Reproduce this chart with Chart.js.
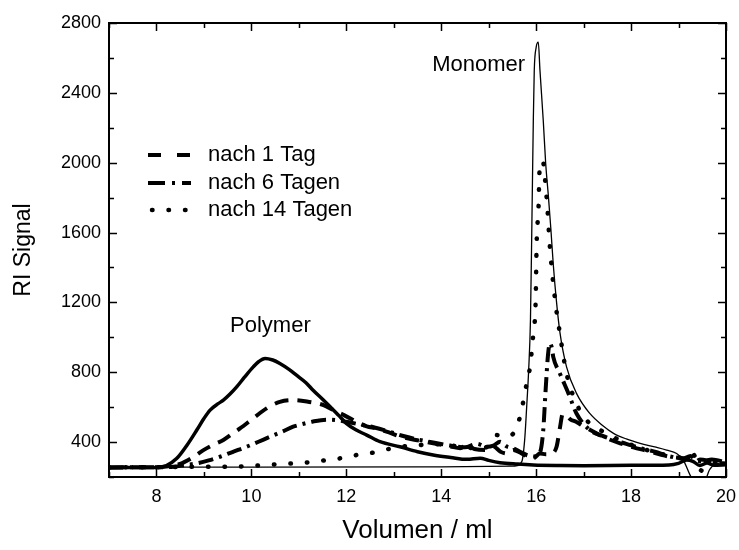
<!DOCTYPE html>
<html>
<head>
<meta charset="utf-8">
<script src="https://cdn.jsdelivr.net/npm/chart.js@4.4.1/dist/chart.umd.min.js"></script>
<style>
  html, body { margin: 0; padding: 0; background: #fff; }
  canvas { display: block; }
</style>
</head>
<body>
<canvas id="gpc" width="739" height="550"></canvas>
<script>
// Elution volume (ml) and RI signal for each GPC trace
const polymerVol = [7, 7.5, 8.0, 8.2, 8.43, 8.65, 8.85, 9.0, 9.13, 9.3, 9.41, 9.55, 9.69, 9.85, 10.04, 10.15, 10.29, 10.45, 10.6, 10.8, 10.95, 11.15, 11.3, 11.5, 11.66, 11.85, 12.0, 12.2, 12.43, 12.71, 13.13, 13.5, 13.83, 14.2, 14.54, 14.82, 15.0, 15.24, 15.6, 15.94, 16.5, 17.0, 18.0, 18.8, 19.0, 19.17, 19.3, 19.45, 19.6, 19.75, 20];
const polymerRI  = [254, 254, 255, 264, 307, 385, 469, 535, 583, 620, 640, 675, 716, 770, 831, 860, 879, 870, 850, 815, 783, 740, 697, 645, 602, 550, 507, 470, 440, 402, 373, 345, 326, 312, 301, 308, 295, 282, 274, 269, 266, 265, 267, 269, 278, 297, 290, 266, 280, 268, 270];

const monomerVol = [7, 10, 14, 15.5, 15.6, 15.7, 15.76, 15.8, 15.84, 15.88, 15.91, 15.94, 15.96, 16.0, 16.045, 16.08, 16.15, 16.2, 16.26, 16.31, 16.36, 16.43, 16.5, 16.64, 16.85, 17.13, 17.4, 17.63, 17.9, 18.19, 18.5, 18.75, 18.96, 19.1, 19.26, 19.4, 19.55, 19.65, 19.8, 20];
const monomerRI  = [256, 256, 258, 262, 265, 290, 420, 600, 800, 1100, 1650, 2240, 2527, 2660, 2690, 2530, 2240, 2000, 1800, 1620, 1420, 1200, 1030, 831, 679, 564, 495, 450, 418, 393, 372, 354, 335, 297, 202, 150, 170, 240, 275, 282];

const tag1Vol = [7, 8.0, 8.25, 8.5, 8.75, 8.99, 9.2, 9.41, 9.6, 9.76, 10.04, 10.32, 10.6, 10.88, 11.17, 11.52, 11.75, 11.94, 12.29, 12.43, 12.64, 12.9, 13.13, 13.5, 13.83, 14.19, 14.4, 14.54, 14.7, 14.96, 15.1, 15.25, 15.38, 15.52, 15.66, 15.8, 15.94, 16.08, 16.2, 16.33, 16.43, 16.5, 16.56, 16.62, 16.72, 16.85, 17.0, 17.27, 17.5, 17.77, 18.05, 18.33, 18.6, 18.82, 19.1, 19.25, 19.35, 19.45, 19.6, 19.8, 20];
const tag1RI  = [255, 256, 262, 275, 310, 354, 385, 412, 448, 478, 536, 593, 630, 640, 632, 612, 580, 556, 507, 490, 478, 455, 432, 410, 393, 375, 365, 385, 360, 354, 375, 345, 335, 355, 340, 318, 307, 335, 330, 335, 373, 480, 560, 555, 530, 515, 490, 450, 420, 393, 370, 350, 330, 316, 307, 300, 285, 300, 295, 280, 278];

const tag6Vol = [7, 8.0, 8.36, 8.6, 8.85, 9.1, 9.34, 9.6, 9.9, 10.15, 10.39, 10.65, 10.88, 11.1, 11.3, 11.59, 11.8, 12.0, 12.3, 12.57, 12.9, 13.2, 13.5, 13.83, 14.19, 14.5, 14.75, 14.96, 15.1, 15.24, 15.38, 15.52, 15.66, 15.8, 15.95, 16.08, 16.15, 16.2, 16.25, 16.29, 16.33, 16.36, 16.5, 16.68, 16.85, 17.13, 17.4, 17.63, 17.9, 18.2, 18.5, 18.82, 19.1, 19.25, 19.35, 19.5, 19.7, 20];
const tag6RI  = [255, 256, 259, 268, 278, 295, 316, 343, 373, 402, 430, 460, 488, 505, 518, 528, 525, 516, 500, 485, 460, 435, 415, 398, 380, 370, 390, 373, 380, 402, 375, 364, 345, 326, 318, 340, 470, 700, 900, 966, 940, 888, 793, 679, 564, 469, 435, 412, 390, 365, 345, 318, 305, 320, 300, 290, 300, 285];

const tag14Vol = [7, 8.0, 8.5, 9.0, 9.55, 10.0, 10.32, 10.88, 11.24, 11.59, 11.94, 12.22, 12.57, 12.92, 13.2, 13.5, 13.83, 14.2, 14.5, 14.8, 15.0, 15.17, 15.35, 15.52, 15.66, 15.8, 15.87, 15.94, 15.99, 16.01, 16.05, 16.07, 16.14, 16.19, 16.24, 16.29, 16.4, 16.5, 16.64, 16.85, 17.06, 17.48, 17.77, 18.05, 18.33, 18.6, 18.82, 19.1, 19.3, 19.49, 19.6, 19.8, 20];
const tag14RI  = [255, 256, 258, 258, 259, 263, 269, 278, 285, 297, 310, 326, 340, 362, 375, 382, 388, 380, 372, 360, 380, 440, 430, 450, 545, 735, 831, 1022, 1212, 1536, 1745, 1946, 2010, 1898, 1727, 1517, 1212, 1022, 793, 621, 526, 450, 410, 380, 355, 335, 320, 310, 331, 236, 250, 285, 280];

// Axis ticks
const xMajorTicks = [8, 10, 12, 14, 16, 18, 20];
const yMajorTicks = [400, 800, 1200, 1600, 2000, 2400, 2800];

// Text labels
const legendLabels = ['nach 1 Tag', 'nach 6 Tagen', 'nach 14 Tagen'];
const peakLabels = [
  { text: 'Monomer', x: 14.79, y: 2560 },
  { text: 'Polymer', x: 10.4, y: 1065 }
];

const FONT = 'Arial, "Liberation Sans", Helvetica, sans-serif';
const pts = (xs, ys) => xs.map((x, i) => ({ x, y: ys[i] }));

const DASH = [14, 9];
const DASHDOT = [15, 6, 3, 6];
const DOT = [0.5, 16];

const datasets = [
  { label: 'Polymer', data: pts(polymerVol, polymerRI), borderWidth: 3.5, borderDash: [] },
  { label: 'Monomer', data: pts(monomerVol, monomerRI), borderWidth: 1.3, borderDash: [] },
  { label: legendLabels[0], data: pts(tag1Vol, tag1RI), borderWidth: 4, borderDash: DASH },
  { label: legendLabels[1], data: pts(tag6Vol, tag6RI), borderWidth: 4, borderDash: DASHDOT },
  { label: legendLabels[2], data: pts(tag14Vol, tag14RI), borderWidth: 4.5, borderDash: DOT, borderCapStyle: 'round' }
].map(d => Object.assign({
  borderColor: '#000',
  backgroundColor: '#000',
  fill: false,
  pointRadius: 0,
  cubicInterpolationMode: 'monotone',
  borderCapStyle: 'butt',
  borderJoinStyle: 'round'
}, d));

// Boxed frame with inward ticks on all four sides
const framePlugin = {
  id: 'frame',
  afterDatasetsDraw(chart) {
    const { ctx, chartArea: a, scales: { x, y } } = chart;
    ctx.save();
    ctx.strokeStyle = '#000';
    ctx.lineWidth = 2;
    ctx.strokeRect(a.left, a.top, a.right - a.left, a.bottom - a.top);
    ctx.lineWidth = 1.5;
    ctx.beginPath();
    for (let v = x.min; v <= x.max; v += 1) {
      const px = Math.round(x.getPixelForValue(v)) + 0.5;
      const len = xMajorTicks.includes(v) ? 8 : 5;
      ctx.moveTo(px, a.bottom); ctx.lineTo(px, a.bottom - len);
      ctx.moveTo(px, a.top); ctx.lineTo(px, a.top + len);
    }
    for (let v = y.min; v <= y.max; v += 200) {
      const py = Math.round(y.getPixelForValue(v)) + 0.5;
      const len = yMajorTicks.includes(v) ? 8 : 5;
      ctx.moveTo(a.left, py); ctx.lineTo(a.left + len, py);
      ctx.moveTo(a.right, py); ctx.lineTo(a.right - len, py);
    }
    ctx.stroke();
    ctx.restore();
  }
};

// Line-style key and peak labels
const labelPlugin = {
  id: 'labels',
  afterDatasetsDraw(chart) {
    const { ctx, scales: { x, y } } = chart;
    ctx.save();
    ctx.fillStyle = '#000';
    ctx.strokeStyle = '#000';
    ctx.font = '22px ' + FONT;
    ctx.textBaseline = 'middle';
    const rows = [155, 183, 210];
    [2, 3, 4].forEach((di, i) => {
      const ds = chart.data.datasets[di];
      ctx.beginPath();
      ctx.lineWidth = ds.borderWidth;
      ctx.setLineDash(di === 2 ? [13, 16] : di === 3 ? [17, 7, 3, 7] : [0.5, 16]);
      ctx.lineCap = ds.borderCapStyle;
      ctx.moveTo(di === 4 ? 152 : 148, rows[i]);
      ctx.lineTo(191, rows[i]);
      ctx.stroke();
      ctx.setLineDash([]);
      ctx.textAlign = 'left';
      ctx.fillText(legendLabels[i], 208, rows[i]);
    });
    ctx.textAlign = 'center';
    peakLabels.forEach(p => {
      ctx.fillText(p.text, x.getPixelForValue(p.x), y.getPixelForValue(p.y));
    });
    ctx.restore();
  }
};

new Chart(document.getElementById('gpc'), {
  type: 'line',
  data: { datasets },
  options: {
    responsive: false,
    animation: false,
    events: [],
    layout: { padding: { top: 23, right: 13, left: 0, bottom: 0 } },
    plugins: { legend: { display: false }, tooltip: { enabled: false } },
    scales: {
      x: {
        type: 'linear', min: 7, max: 20,
        afterFit(s) { s.height = 73; s.paddingLeft = 0; s.paddingRight = 0; },
        grid: { display: false, drawTicks: false },
        border: { display: false },
        ticks: {
          stepSize: 1, padding: 9, color: '#000', maxRotation: 0, autoSkip: false,
          font: { family: FONT, size: 18 },
          callback: v => (xMajorTicks.includes(v) ? String(v) : '')
        },
        title: {
          display: true, text: 'Volumen / ml', color: '#000',
          font: { family: FONT, size: 26 }, padding: { top: 0, bottom: 4 }
        }
      },
      y: {
        type: 'linear', min: 200, max: 2800,
        afterFit(s) { s.width = 109; },
        grid: { display: false, drawTicks: false },
        border: { display: false },
        ticks: {
          stepSize: 200, padding: 8, color: '#000', autoSkip: false,
          font: { family: FONT, size: 18 },
          callback: v => (yMajorTicks.includes(v) ? String(v) : '')
        },
        title: {
          display: true, text: 'RI Signal', color: '#000',
          font: { family: FONT, size: 23 }, padding: { top: 10, bottom: 0 }
        }
      }
    }
  },
  plugins: [framePlugin, labelPlugin]
});
</script>
</body>
</html>
